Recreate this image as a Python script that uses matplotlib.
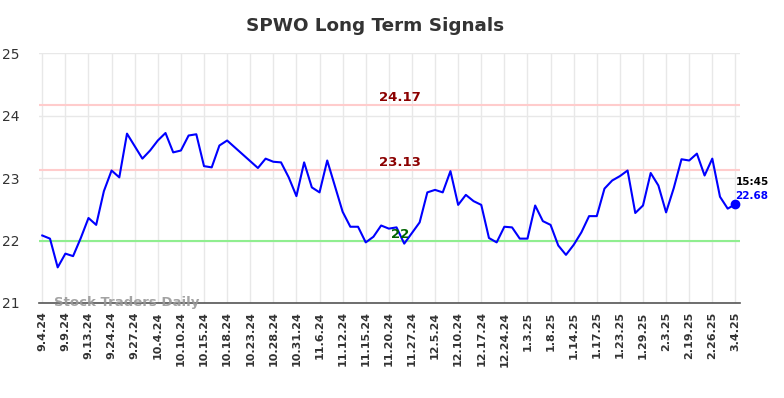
import matplotlib
matplotlib.use("Agg")
import matplotlib.pyplot as plt

title = "SPWO Long Term Signals"
tick_labels = ["9.4.24", "9.9.24", "9.13.24", "9.24.24", "9.27.24", "10.4.24", "10.10.24",
               "10.15.24", "10.18.24", "10.23.24", "10.28.24", "10.31.24", "11.6.24", "11.12.24",
               "11.15.24", "11.20.24", "11.27.24", "12.5.24", "12.10.24", "12.17.24", "12.24.24",
               "1.3.25", "1.8.25", "1.14.25", "1.17.25", "1.23.25", "1.29.25", "2.3.25",
               "2.19.25", "2.26.25", "3.4.25"]
prices = [22.08, 22.03, 21.57, 21.79, 21.75, 22.04, 22.36, 22.25, 22.79, 23.12,
          23.01, 23.71, 23.51, 23.31, 23.44, 23.60, 23.72, 23.41, 23.44, 23.68,
          23.70, 23.19, 23.17, 23.52, 23.60, 23.49, 23.38, 23.27, 23.16, 23.31,
          23.26, 23.25, 23.01, 22.71, 23.25, 22.85, 22.77, 23.28, 22.87, 22.46,
          22.22, 22.22, 21.97, 22.06, 22.24, 22.19, 22.21, 21.95, 22.12, 22.29,
          22.77, 22.81, 22.77, 23.11, 22.57, 22.73, 22.63, 22.57, 22.04, 21.97,
          22.22, 22.21, 22.03, 22.03, 22.56, 22.31, 22.25, 21.92, 21.77, 21.93,
          22.13, 22.39, 22.39, 22.83, 22.96, 23.03, 23.12, 22.44, 22.56, 23.08,
          22.88, 22.45, 22.84, 23.30, 23.28, 23.39, 23.04, 23.31, 22.70, 22.51,
          22.58]
resistance_levels = [24.17, 23.13]
support_levels = [22.0]
support_label = "22"
last_time = "15:45"
last_label = "22.68"
watermark = "Stock Traders Daily"

fig = plt.figure(figsize=(7.84, 3.98), dpi=100)
ax = fig.add_axes([0.0501, 0.2387, 0.8938, 0.6281])

x = list(range(len(prices)))
tick_pos = x[::3]

for xv in tick_pos:
    ax.axvline(xv, color="#e8e8e8", lw=1, zorder=0)
for yv in [21, 22, 23, 24, 25]:
    ax.axhline(yv, color="#e8e8e8", lw=1, zorder=0)

for lv in resistance_levels:
    ax.axhline(lv, color="#ffcccc", lw=1.5, zorder=1)
    ax.text(46.4, lv + 0.02, f"{lv:.2f}", color="#8b0000", fontsize=9.5,
            fontweight="bold", ha="center", va="bottom", zorder=3)
for lv in support_levels:
    ax.axhline(lv, color="#90ee90", lw=1.5, zorder=1)
ax.text(46.5, support_levels[0] + 0.0, support_label, color="#006400", fontsize=9.5,
        fontweight="bold", ha="center", va="bottom", zorder=3)

ax.plot(x, prices, color="#0000ff", lw=1.5, zorder=2)
ax.plot(x[-1], prices[-1], "o", color="#0000ff", ms=6, zorder=4)

ax.text(x[-1], prices[-1] + 0.27, last_time, color="black", fontsize=7.5,
        fontweight="bold", ha="left", va="bottom", zorder=4)
ax.text(x[-1], prices[-1] + 0.06, last_label, color="#0000ff", fontsize=7.5,
        fontweight="bold", ha="left", va="bottom", zorder=4)

ax.text(1.5, 21.0, watermark, color="#999999", fontsize=9.5, fontweight="bold",
        ha="left", va="center", alpha=0.9, zorder=3)

ax.set_xlim(-0.39, 90.6)
ax.set_ylim(21, 25)
ax.set_yticks([21, 22, 23, 24, 25])
ax.set_yticklabels(["21", "22", "23", "24", "25"], fontsize=10, color="#333333")
ax.set_xticks(tick_pos)
ax.set_xticklabels(tick_labels, rotation=90, fontsize=8, fontweight="bold", color="#333333")
ax.tick_params(axis="both", length=0, pad=6)
ax.tick_params(axis="y", pad=14)

for s in ["top", "right", "left"]:
    ax.spines[s].set_visible(False)
ax.spines["bottom"].set_color("#555555")
ax.spines["bottom"].set_linewidth(1.2)

fig.text(375 / 784, 1 - 26 / 398, title, fontsize=13.2, fontweight="bold",
         color="#333333", ha="center", va="center")

fig.savefig("out.png", dpi=100, facecolor="white")
